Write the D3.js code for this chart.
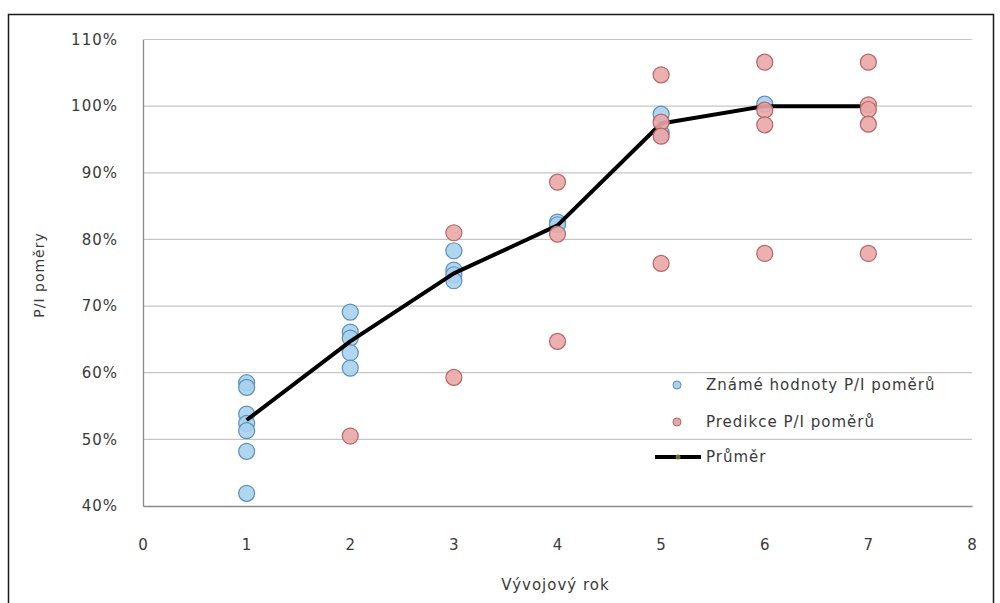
<!DOCTYPE html>
<html>
<head>
<meta charset="utf-8">
<script src="https://cdn.jsdelivr.net/npm/d3@7"></script>
<style>
  html, body { margin: 0; padding: 0; background: #fff; }
  svg { display: block; }
  text { font-family: "DejaVu Sans", Verdana, sans-serif; fill: #3a3a3a; letter-spacing: 1px; }
</style>
</head>
<body>
<svg id="chart" width="1000" height="603"></svg>
<script>
// ---- data ----
const knownX = [1,1,1,1,1,1,1, 2,2,2,2,2, 3,3,3,3, 4,4, 5,5, 6];
const knownY = [58.5,57.8,53.8,52.4,51.3,48.2,41.9, 69.1,66.1,65.2,63.0,60.7, 78.3,75.4,74.7,73.8, 82.6,82.2, 98.8,96.0, 100.3];
const predX = [2, 3,3, 4,4,4, 5,5,5,5, 6,6,6,6, 7,7,7,7,7];
const predY = [50.5, 81.0,59.3, 88.6,80.8,64.7, 104.7,97.6,95.5,76.4, 106.6,99.4,97.2,77.9, 106.6,100.2,99.5,97.3,77.9];
const avgX = [1,2,3,4,5,6,7];
const avgY = [52.9,64.7,74.9,82.1,97.4,100,100];
const xTicks = [0,1,2,3,4,5,6,7,8];
const yTicks = [40,50,60,70,80,90,100,110];
const legendLabels = ["Známé hodnoty P/I poměrů", "Predikce P/I poměrů", "Průměr"];
const xTitle = "Vývojový rok";
const yTitle = "P/I poměry";

// ---- layout ----
const svg = d3.select("#chart");
const m = {left: 143, right: 972, top: 39.5, bottom: 506};
const x = d3.scaleLinear().domain([0, 8]).range([m.left, m.right]);
const y = d3.scaleLinear().domain([40, 110]).range([m.bottom, m.top]);

// outer frame
svg.append("rect").attr("x", 8.5).attr("y", 14.5).attr("width", 985).attr("height", 620)
  .attr("fill", "none").attr("stroke", "#1a1a1a").attr("stroke-width", 1.5);

// gridlines
svg.append("g").selectAll("line").data(yTicks.filter(d => d > 40)).join("line")
  .attr("x1", m.left).attr("x2", m.right)
  .attr("y1", d => y(d)).attr("y2", d => y(d))
  .attr("stroke", "#c6c6c6").attr("stroke-width", 1.2);

// axes
const yAxis = svg.append("g").attr("transform", `translate(${m.left},0)`)
  .call(d3.axisLeft(y).tickValues(yTicks).tickFormat(d => d + "%").tickSize(0).tickPadding(25));
const xAxis = svg.append("g").attr("transform", `translate(0,${m.bottom})`)
  .call(d3.axisBottom(x).tickValues(xTicks).tickFormat(d3.format("d")).tickSize(0).tickPadding(33));
[yAxis, xAxis].forEach(a => {
  a.select(".domain").attr("stroke", "#8a8a8a").attr("stroke-width", 1.3);
  a.selectAll("text").style("font-family", "'DejaVu Sans', sans-serif").style("font-size", "15px").attr("fill", "#3a3a3a");
});

// axis titles
svg.append("text").attr("x", x(4) - 2).attr("y", 590).attr("text-anchor", "middle")
  .style("font-size", "15px").text(xTitle);
svg.append("text").attr("transform", "translate(44,275) rotate(-90)").attr("text-anchor", "middle")
  .style("font-size", "14px").text(yTitle);

// known values (blue)
const blueFill = "#a8d2ee", blueStroke = "#5b8fbd";
const redFill = "#eaa7a7", redStroke = "#b46666";
svg.append("g").selectAll("circle").data(knownX.map((d, i) => [d, knownY[i]])).join("circle")
  .attr("cx", d => x(d[0])).attr("cy", d => y(d[1])).attr("r", 8)
  .attr("fill", blueFill).attr("fill-opacity", 0.9).attr("stroke", blueStroke).attr("stroke-width", 1.2);

// average line
svg.append("path").datum(avgX.map((d, i) => [d, avgY[i]]))
  .attr("d", d3.line().x(d => x(d[0])).y(d => y(d[1])))
  .attr("fill", "none").attr("stroke", "#000").attr("stroke-width", 4).attr("stroke-linejoin", "round");

// predictions (red)
svg.append("g").selectAll("circle").data(predX.map((d, i) => [d, predY[i]])).join("circle")
  .attr("cx", d => x(d[0])).attr("cy", d => y(d[1])).attr("r", 8)
  .attr("fill", redFill).attr("fill-opacity", 0.9).attr("stroke", redStroke).attr("stroke-width", 1.2);

// legend
const lg = svg.append("g");
const ly = [385, 422, 457];
lg.append("circle").attr("cx", 677).attr("cy", ly[0]).attr("r", 4)
  .attr("fill", blueFill).attr("stroke", blueStroke);
lg.append("circle").attr("cx", 677).attr("cy", ly[1]).attr("r", 4)
  .attr("fill", redFill).attr("stroke", redStroke);
lg.append("line").attr("x1", 655).attr("x2", 701).attr("y1", ly[2]).attr("y2", ly[2])
  .attr("stroke", "#000").attr("stroke-width", 4);
lg.append("circle").attr("cx", 678).attr("cy", ly[2]).attr("r", 2.5).attr("fill", "#6b6b2a");
lg.selectAll("text.lt").data(legendLabels).join("text").attr("class", "lt")
  .attr("x", d => 706).attr("y", (d, i) => ly[i] + 5)
  .style("font-size", "15px").text(d => d);
</script>
</body>
</html>
